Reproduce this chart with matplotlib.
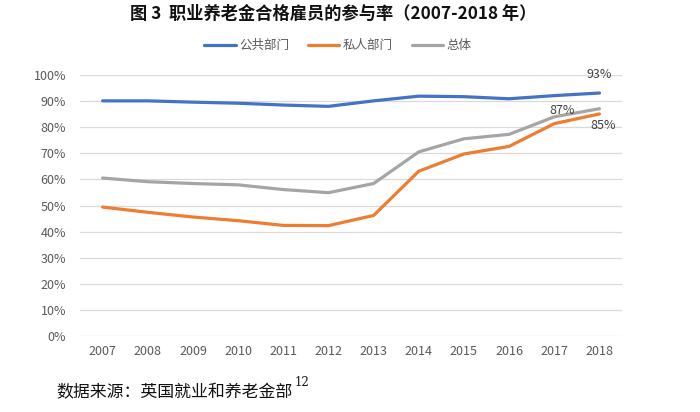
import matplotlib
matplotlib.use("Agg")
import matplotlib.pyplot as plt
from matplotlib.ticker import FuncFormatter

plt.rcParams['font.family'] = ['Noto Sans CJK SC', 'DejaVu Sans']

years = ['2007', '2008', '2009', '2010', '2011', '2012', '2013', '2014', '2015', '2016', '2017', '2018']
public = [0.90, 0.90, 0.895, 0.891, 0.884, 0.879, 0.90, 0.918, 0.916, 0.908, 0.92, 0.93]
private = [0.494, 0.474, 0.456, 0.442, 0.424, 0.423, 0.462, 0.631, 0.697, 0.726, 0.813, 0.85]
total = [0.605, 0.591, 0.584, 0.579, 0.561, 0.549, 0.584, 0.705, 0.755, 0.772, 0.839, 0.87]
series_names = ['公共部门', '私人部门', '总体']
colors = ['#4472C4', '#ED7D31', '#A5A5A5']

fig = plt.figure(figsize=(7, 4.12), dpi=100)
ax = fig.add_axes([0.1143, 0.1837, 0.7743, 0.635])

x = list(range(len(years)))
for vals, name, c in zip([public, private, total], series_names, colors):
    ax.plot(x, vals, color=c, lw=2.3, label=name, solid_capstyle='round', solid_joinstyle='round')

ax.set_xlim(-0.5, len(years) - 0.5)
ax.set_ylim(0, 1.0)
ax.set_yticks([i / 10 for i in range(11)])
ax.yaxis.set_major_formatter(FuncFormatter(lambda v, p: f"{round(v*100)}%"))
ax.set_xticks(x)
ax.set_xticklabels(years)
ax.grid(axis='y', color='#D9D9D9', lw=0.9)
ax.set_axisbelow(True)
for s in ax.spines.values():
    s.set_visible(False)
ax.tick_params(length=0, labelsize=9, labelcolor='#595959', pad=6)
ax.tick_params(axis='y', pad=10)

lc = '#404040'
ax.annotate(f"{round(public[-1]*100)}%", (x[-1], public[-1]), xytext=(0, 13),
            textcoords='offset points', ha='center', va='center', fontsize=9, color=lc)
ax.annotate(f"{round(total[-1]*100)}%", (x[-1], total[-1]), xytext=(-18, -1.5),
            textcoords='offset points', ha='right', va='center', fontsize=9, color=lc)
ax.annotate(f"{round(private[-1]*100)}%", (x[-1], private[-1]), xytext=(3, -8),
            textcoords='offset points', ha='center', va='center', fontsize=9, color=lc)

fig.text(0.476, 0.967, '图 3  职业养老金合格雇员的参与率（2007-2018 年）', ha='center', va='center',
         fontsize=12.4, fontweight='bold', color='#111111')

fig.legend(loc='center', bbox_to_anchor=(0.483, 0.889), ncol=3, frameon=False,
           fontsize=9, handlelength=2.5, columnspacing=1.5, handletextpad=0.3,
           labelcolor='#595959')

t = fig.text(0.081, 0.048, '数据来源：英国就业和养老金部', ha='left', va='center', fontsize=12.2, color='#111111')
fig.canvas.draw()
bb = t.get_window_extent()
fig.text(bb.x1 / fig.bbox.width + 0.002, 0.072, '12', ha='left', va='center', fontsize=8.5,
         color='#111111', family='DejaVu Serif')

fig.savefig('out.png', dpi=100)
